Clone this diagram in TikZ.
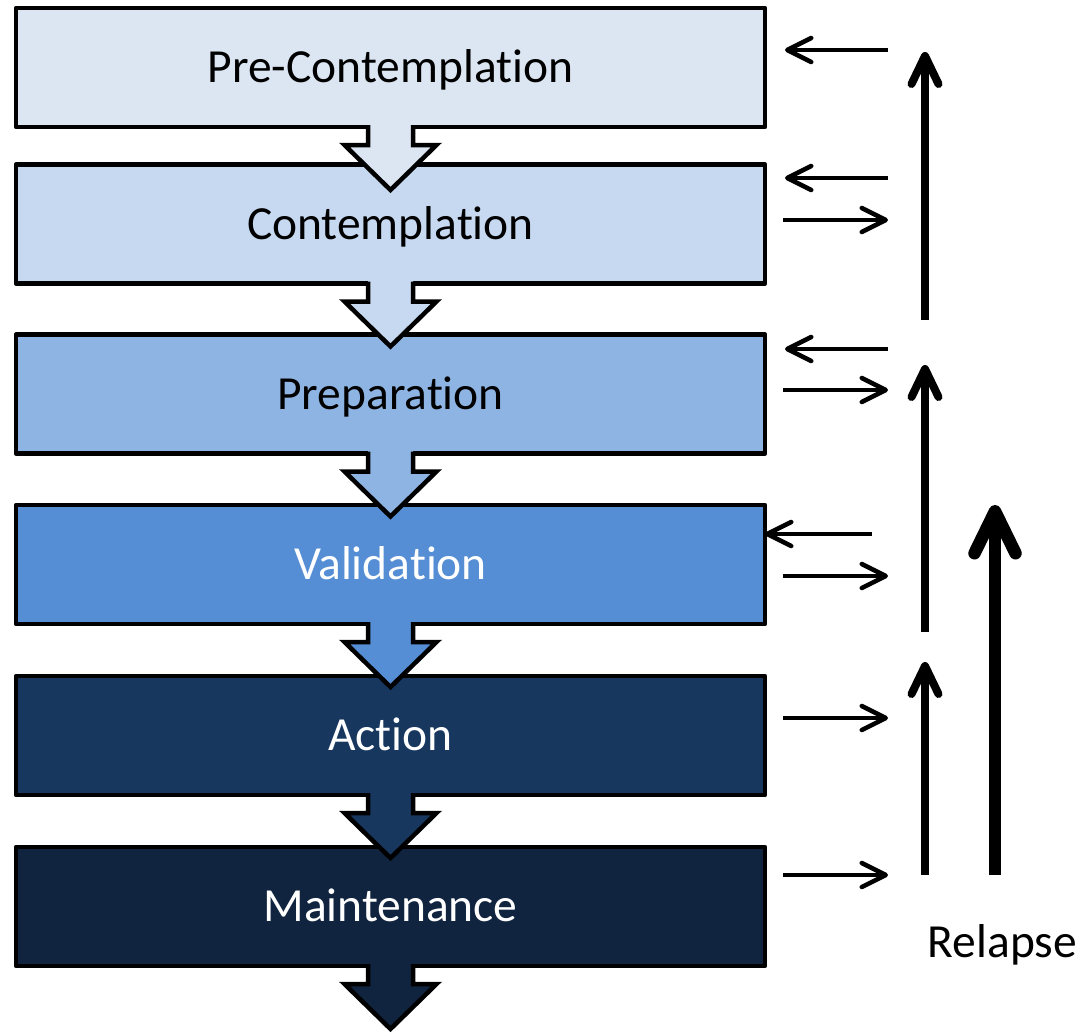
\documentclass[tikz,border=0pt]{standalone}
\usepackage{fontspec}
\setmainfont{Carlito}[Ligatures=NoCommon]
\usetikzlibrary{arrows.meta,calc}
\definecolor{c1}{HTML}{DCE6F2}
\definecolor{c2}{HTML}{C6D9F1}
\definecolor{c3}{HTML}{8EB4E3}
\definecolor{c4}{HTML}{558ED5}
\definecolor{c5}{HTML}{17375E}
\definecolor{c6}{HTML}{10243F}
\begin{document}
\begin{tikzpicture}[x=1pt,y=-1pt,
  stage/.style={draw=black, line width=4.5pt, line join=round,
    minimum width=749pt, minimum height=119pt, outer sep=0pt, inner sep=0pt,
    font=\fontsize{47.5}{56}\selectfont, text height=30pt, text depth=0pt},
  downline/.style={draw=black, line width=4.5pt, line join=miter},
  thinarrow/.style={line width=4.5pt, -{Straight Barb[length=24pt,width=24pt,round]}},
  midarrow/.style={line width=8pt, -{Straight Barb[length=28pt,width=27pt,round]}},
  thickarrow/.style={line width=12.5pt, -{Straight Barb[length=42pt,width=41pt,round]}},
  lbl/.style={font=\fontsize{47.5}{56}\selectfont, text height=30pt, text depth=0pt, inner sep=0pt}]
\useasboundingbox (0,0) rectangle (1091,1033);

\node[stage, fill=c1] (b1) at (390.5,67.5) {Pre-Contemplation};
\node[stage, fill=c2] (b2) at (390.5,224) {Contemplation};
\node[stage, fill=c3] (b3) at (390.5,394) {Preparation};
\node[stage, fill=c4, text=white] (b4) at (390.5,564.5) {Validation};
\node[stage, fill=c5, text=white] (b5) at (390.5,735.5) {Action};
\node[stage, fill=c6, text=white] (b6) at (390.5,906.5) {Maintenance};

\foreach \n/\c in {b1/c1,b2/c2,b3/c3,b4/c4,b5/c5,b6/c6}{
  \fill[\c] ($(\n.south)+(-22.5,-3)$) -- ++(0,21) -- ++(-23.5,0) -- ++(46,45)
    -- ++(46,-45) -- ++(-23.5,0) -- ++(0,-21) -- cycle;
  \draw[downline] ($(\n.south)+(-22.5,-2)$) -- ++(0,20) -- ++(-23.5,0) -- ++(46,45)
    -- ++(46,-45) -- ++(-23.5,0) -- ++(0,-20);
}

% small feedback arrows
\coordinate (l1s) at (888,50);  \coordinate (l1e) at (785,50);
\coordinate (l2s) at (888,178); \coordinate (l2e) at (785,178);
\coordinate (r2s) at (783,220); \coordinate (r2e) at (888,220);
\coordinate (l3s) at (888,349); \coordinate (l3e) at (785,349);
\coordinate (r3s) at (783,390); \coordinate (r3e) at (888,390);
\coordinate (l4s) at (872,534);
\coordinate (r4s) at (783,576); \coordinate (r4e) at (888,576);
\coordinate (r5s) at (783,718); \coordinate (r5e) at (888,718);
\coordinate (r6s) at (783,875); \coordinate (r6e) at (888,875);

\draw[thinarrow] (l1s) -- (l1e);
\draw[thinarrow] (l2s) -- (l2e);
\draw[thinarrow] (r2s) -- (r2e);
\draw[thinarrow] (l3s) -- (l3e);
\draw[thinarrow] (r3s) -- (r3e);
\draw[thinarrow] (l4s) -- (b4.east |- l4s);
\draw[thinarrow] (r4s) -- (r4e);
\draw[thinarrow] (r5s) -- (r5e);
\draw[thinarrow] (r6s) -- (r6e);

% vertical arrows
\coordinate (v1s) at (925,320); \coordinate (v1e) at (925,52);
\coordinate (v2s) at (925,632); \coordinate (v2e) at (925,365);
\coordinate (v3s) at (925,875); \coordinate (v3e) at (925,662);
\coordinate (v4s) at (995,875); \coordinate (v4e) at (995,505);
\draw[midarrow] (v1s) -- (v1e);
\draw[midarrow] (v2s) -- (v2e);
\draw[midarrow] (v3s) -- (v3e);
\draw[thickarrow] (v4s) -- (v4e);

\node[lbl] (relapse) at (1002.5,942.5) {Relapse};
\end{tikzpicture}
\end{document}
